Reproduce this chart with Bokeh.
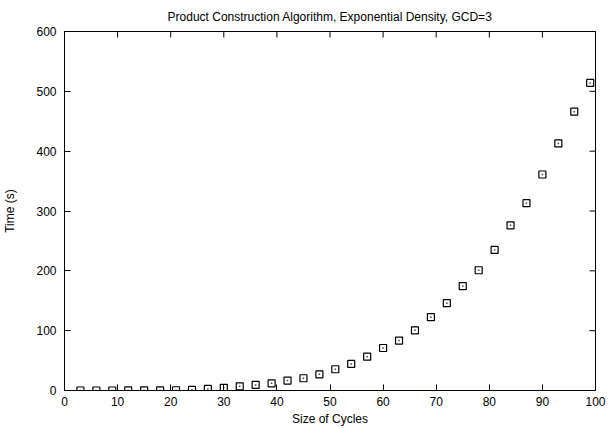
import math
from bokeh.plotting import figure
from bokeh.models import Range1d, FixedTicker
from bokeh.embed import file_html
from bokeh.resources import INLINE

cycle_sizes = [3, 6, 9, 12, 15, 18, 21, 24, 27, 30, 33, 36, 39, 42, 45, 48, 51,
               54, 57, 60, 63, 66, 69, 72, 75, 78, 81, 84, 87, 90, 93, 96, 99]
times = [0.0, 0.0, 0.0, 0.1, 0.1, 0.2, 0.4, 1.2, 2.6, 4.4, 7.0, 9.4, 12.0, 16.6,
         20.5, 27.0, 35.5, 44.4, 56.5, 71.0, 83.5, 100.5, 122.5, 146.0, 174.5,
         201.0, 235.0, 276.0, 313.0, 361.0, 413.0, 466.0, 514.0]
x_ticks = [0, 10, 20, 30, 40, 50, 60, 70, 80, 90, 100]
y_ticks = [0, 100, 200, 300, 400, 500, 600]

FONT = "Liberation Sans"
x_lo, x_hi = x_ticks[0], x_ticks[-1]
y_lo, y_hi = y_ticks[0], y_ticks[-1]

p = figure(width=608, height=428, output_backend="svg", toolbar_location=None,
           x_range=Range1d(x_lo, x_hi), y_range=Range1d(y_lo, y_hi),
           x_axis_label="Size of Cycles", y_axis_label="Time (s)")
p.min_border_left = 63
p.min_border_right = 13
p.min_border_bottom = 37
p.min_border_top = 30
p.xgrid.visible = False
p.ygrid.visible = False
p.outline_line_color = "black"
p.outline_line_width = 1
p.background_fill_color = "white"
p.border_fill_color = "white"

p.title.text = "Product Construction Algorithm, Exponential Density, GCD=3"
p.title.align = "center"
p.title.text_font = FONT
p.title.text_font_size = "12px"
p.title.text_font_style = "normal"
p.title.text_color = "black"
p.title.standoff = 15

for ax, ticks in ((p.xaxis[0], x_ticks), (p.yaxis[0], y_ticks)):
    ax.ticker = FixedTicker(ticks=ticks)
    ax.minor_tick_line_color = None
    ax.major_tick_in = 6
    ax.major_tick_out = 0
    ax.major_label_text_font = FONT
    ax.major_label_text_font_size = "12px"
    ax.major_label_text_color = "black"
    ax.axis_label_text_font = FONT
    ax.axis_label_text_font_size = "12px"
    ax.axis_label_text_font_style = "normal"
    ax.axis_label_text_color = "black"
    ax.axis_line_color = "black"
    ax.major_tick_line_color = "black"
p.xaxis[0].major_label_standoff = 6
p.xaxis[0].axis_label_standoff = 3
p.yaxis[0].major_label_standoff = 8
p.yaxis[0].axis_label_standoff = 16

# mirrored inward ticks on the top and right borders (clipped to the frame)
p.scatter(x_ticks, [y_hi] * len(x_ticks), marker="dash", angle=math.pi / 2,
          size=12, line_color="black", line_width=1)
p.scatter([x_hi] * len(y_ticks), y_ticks, marker="dash", angle=0,
          size=12, line_color="black", line_width=1)

p.scatter(cycle_sizes, times, marker="square", size=7, fill_color=None,
          line_color="black", line_width=1.2)
p.scatter(cycle_sizes, times, marker="square", size=1.5, fill_color="#444444",
          line_color=None)

open("out.html", "w").write(file_html(p, INLINE))
